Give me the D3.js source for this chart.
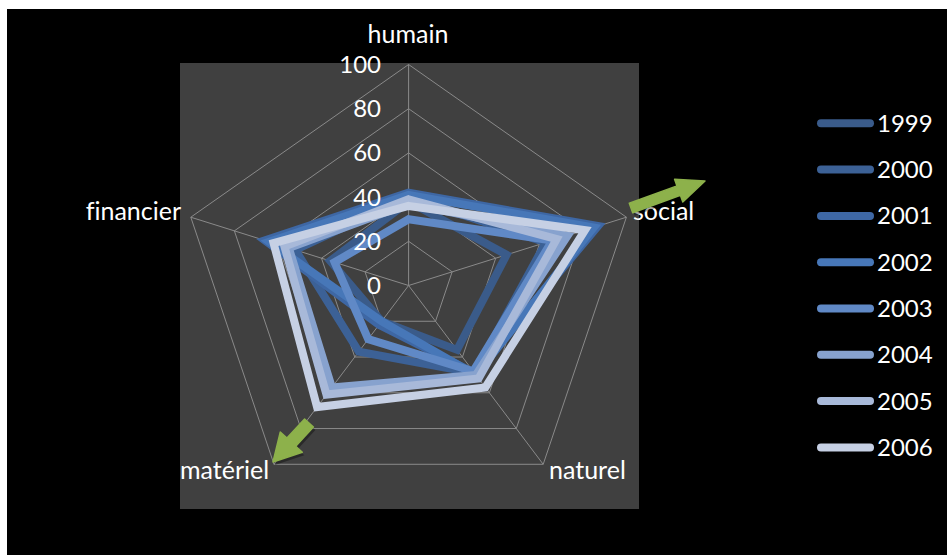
<!DOCTYPE html>
<html><head><meta charset="utf-8">
<script src="https://cdn.jsdelivr.net/npm/d3@7"></script>
<style>html,body{margin:0;padding:0;background:#fff;}svg{display:block;}text{font-variant-ligatures:none;font-feature-settings:"liga" 0;}</style>
</head><body>
<svg id="chart" width="947" height="555"></svg>
<script>
const axes = ["humain", "social", "naturel", "matériel", "financier"];
const years = ["1999", "2000", "2001", "2002", "2003", "2004", "2005", "2006"];
const humain    = [38, 40, 42, 41, 30, 37, 39, 36];
const social    = [45, 63, 87, 85, 66, 73, 68, 81];
const naturel   = [36, 49, 49, 50, 48, 50, 52, 57];
const materiel  = [20, 37, 22, 20, 30, 57, 61, 68];
const financier = [36, 52, 66, 64, 34, 55, 57, 62];
const tickValues = [0, 20, 40, 60, 80, 100];
const colors = ["#3a5b8a", "#3c6196", "#3e67a4", "#4777b8", "#6089c6", "#87a2ce", "#a8b9d9", "#c6d0e4"];

const svg = d3.select("#chart");
const font = "Lato, 'Open Sans', sans-serif";
svg.append("rect").attr("x", 7).attr("y", 9).attr("width", 940).attr("height", 546).attr("fill", "#000");
svg.append("rect").attr("x", 180).attr("y", 63).attr("width", 459).attr("height", 446).attr("fill", "#404040");

const cx = 408.6, cy = 285.5, aspect = 229 / 221;
const r = d3.scaleLinear().domain([0, 100]).range([0, 221]);
const angle = d3.scalePoint().domain(axes).range([-90, 198]);
function pt(axis, v) {
  const a = angle(axis) * Math.PI / 180;
  return [cx + Math.cos(a) * r(v) * aspect, cy + Math.sin(a) * r(v)];
}
const g = svg.append("g");
tickValues.filter(t => t > 0).forEach(t => {
  g.append("path")
    .attr("d", d3.line()(axes.map(a => pt(a, t))) + "Z")
    .attr("fill", "none").attr("stroke", "#8a8a8a").attr("stroke-width", 1);
});
axes.forEach(a => {
  const p = pt(a, 100);
  g.append("line").attr("x1", cx).attr("y1", cy).attr("x2", p[0]).attr("y2", p[1])
    .attr("stroke", "#8a8a8a").attr("stroke-width", 1);
});
const data = years.map((y, i) => ({
  year: y,
  values: [humain[i], social[i], naturel[i], materiel[i], financier[i]]
}));
const line = d3.line();
data.forEach((d, i) => {
  g.append("path")
    .attr("d", line(axes.map((a, k) => pt(a, d.values[k]))) + "Z")
    .attr("fill", "none").attr("stroke", colors[i]).attr("stroke-width", 8)
    .attr("stroke-linejoin", "miter");
});
tickValues.forEach(t => {
  const p = pt("humain", t);
  svg.append("text").attr("x", 381).attr("y", p[1] + 8.5).attr("text-anchor", "end")
    .attr("fill", "#fff").attr("font-family", font).attr("font-size", 24).text(t);
});
const labelPos = {
  "humain": [408, 43, "middle"],
  "social": [633, 220, "start"],
  "naturel": [549, 479, "start"],
  "matériel": [180, 479, "start"],
  "financier": [181, 220, "end"]
};
axes.forEach(a => {
  const [x, y, anc] = labelPos[a];
  svg.append("text").attr("x", x).attr("y", y).attr("text-anchor", anc)
    .attr("fill", "#fff").attr("font-family", font).attr("font-size", 25).text(a);
});
function arrow(x1, y1, x2, y2, sw, hw, hl) {
  const dx = x2 - x1, dy = y2 - y1, L = Math.hypot(dx, dy);
  const ux = dx / L, uy = dy / L, nx = -uy, ny = ux;
  const bx = x2 - ux * hl, by = y2 - uy * hl;
  const p = [
    [x1 + nx * sw, y1 + ny * sw], [bx + nx * sw, by + ny * sw], [bx + nx * hw, by + ny * hw],
    [x2, y2], [bx - nx * hw, by - ny * hw], [bx - nx * sw, by - ny * sw], [x1 - nx * sw, y1 - ny * sw]
  ];
  svg.append("path").attr("d", d3.line()(p.map(q => [q[0] + 2, q[1] + 3])) + "Z").attr("fill", "rgba(0,0,0,0.35)");
  svg.append("path").attr("d", d3.line()(p) + "Z").attr("fill", "#8db14b").attr("stroke", "#8db14b")
    .attr("stroke-width", 1.5).attr("stroke-linejoin", "round");
}
arrow(631, 208, 705, 181, 5, 12, 28);
arrow(309, 423, 273, 462, 6, 15, 27);
const lg = svg.append("g");
years.forEach((y, i) => {
  const yy = 123.3 + i * 46.3;
  lg.append("line").attr("x1", 821).attr("x2", 870).attr("y1", yy).attr("y2", yy)
    .attr("stroke", colors[i]).attr("stroke-width", 8).attr("stroke-linecap", "round");
  lg.append("text").attr("x", 877).attr("y", yy + 8.5).attr("fill", "#fff")
    .attr("font-family", font).attr("font-size", 24).text(y);
});
</script>
</body></html>
